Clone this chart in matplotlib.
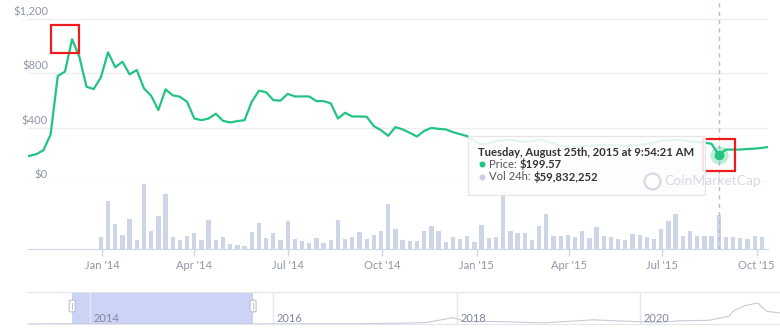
import numpy as np
import matplotlib
matplotlib.use("Agg")
import matplotlib.pyplot as plt
import matplotlib.dates as mdates
import matplotlib.transforms as mtransforms
from matplotlib.lines import Line2D
from matplotlib.patches import Rectangle, FancyBboxPatch
from matplotlib.text import Annotation

plt.rcParams["font.family"] = ["Lato", "DejaVu Sans"]

W, H = 780, 328

# weekly closing price (USD), first point 2013-10-22
PRICE_START = "2013-10-22"
PRICE = [191, 204, 233, 348, 778, 810, 1048, 920, 699, 682,
         768, 952, 842, 883, 790, 822, 687, 633, 528, 680,
         636, 626, 589, 466, 454, 466, 501, 449, 437, 447,
         454, 589, 670, 659, 601, 597, 647, 628, 628, 628,
         594, 594, 577, 466, 508, 481, 481, 479, 410, 380,
         339, 403, 386, 361, 334, 375, 397, 390, 386, 366,
         351, 336, 300, 275, 285, 300, 305, 310, 300, 295,
         300, 310, 300, 285, 265, 260, 260, 262, 265, 270,
         272, 270, 268, 265, 268, 272, 280, 290, 302, 305,
         310, 305, 298, 295, 290, 280, 199.57, 238, 238, 238,
         242, 245, 250, 258]

# weekly 24h volume (million USD), first bar 2013-12-31
VOL_START = "2013-12-31"
VOLUME = [20.9, 84.2, 44.1, 24.9, 52.3, 15.2, 113.9, 31.9, 58.1, 96.4,
          20.9, 15.2, 22.1, 27.9, 15.2, 51.1, 15.2, 20.9, 9.2, 7.5,
          5.8, 29.6, 45.3, 19.2, 27.9, 15.2, 49.4, 18.0, 14.0, 11.0,
          19.2, 11.0, 15.2, 51.1, 18.0, 20.9, 29.6, 16.9, 23.9, 31.9,
          79.0, 35.4, 16.2, 13.4, 13.4, 30.9, 40.6, 30.9, 12.2, 20.9,
          18.0, 22.1, 12.2, 42.4, 19.2, 20.9, 100.6, 31.9, 27.9, 27.9,
          16.2, 40.6, 61.6, 22.1, 22.1, 23.9, 20.9, 31.9, 19.2, 37.8,
          22.1, 20.9, 18.0, 15.2, 26.7, 23.9, 20.9, 18.0, 35.4, 49.4,
          61.6, 22.1, 30.9, 22.1, 22.1, 22.1, 59.8, 20.4, 20.4, 19.2,
          18.0, 23.2, 20.9]

PRICE_TICKS = [0, 400, 800, 1200]
PRICE_LABELS = ["$0", "$400", "$800", "$1,200"]
MONTH_TICKS = ["2014-01-01", "2014-04-01", "2014-07-01", "2014-10-01",
               "2015-01-01", "2015-04-01", "2015-07-01", "2015-10-01"]
X_RANGE = ["2013-10-21", "2015-10-12"]

# highlighted point / tooltip
HOVER_DATE = "2015-08-25"
HOVER_PRICE = 199.57
HOVER_TITLE = "Tuesday, August 25th, 2015 at 9:54:21 AM"
HOVER_VOL = "$59,832,252"
PEAK_DATE = "2013-11-26"
PEAK_PRICE = 1048

# navigator overview (price in thousand USD)
NAV_DATES = ["2013-04-28", "2013-11-30", "2014-06-01", "2015-01-15", "2015-10-01",
             "2016-06-15", "2017-01-01", "2017-06-01", "2017-09-01", "2017-12-17",
             "2018-02-06", "2018-06-01", "2018-12-15", "2019-06-26", "2019-12-15",
             "2020-03-13", "2020-06-01", "2020-10-01", "2020-12-20", "2021-01-08",
             "2021-02-20", "2021-04-14", "2021-05-20", "2021-07-12"]
NAV_PRICE = [0.13, 1.0, 0.6, 0.2, 0.25,
             0.7, 1.0, 2.5, 4.3, 19.0,
             7.0, 7.5, 3.3, 12.5, 7.2,
             5.0, 9.5, 11.0, 23.0, 39.0,
             55.0, 63.0, 38.0, 33.0]
NAV_YEARS = ["2014", "2016", "2018", "2020"]
NAV_RANGE = ["2013-04-28", "2021-07-12"]

GREEN = "#23c483"
BAR = "#cdd5e6"
LABEL = "#8f97a8"
GRID = "#eeeeee"
AXIS = "#ccd6eb"
DASH = "#b4bbdb"


def fx(x):
    return x / W


def fy(y):
    return 1 - y / H


def main():
    fig = plt.figure(figsize=(W / 100, H / 100), dpi=100)
    fig.patch.set_facecolor("white")

    ax = fig.add_axes([fx(28), fy(182), 740 / W, 182 / H])
    av = fig.add_axes([fx(28), fy(249), 740 / W, 67 / H])
    an = fig.add_axes([fx(28), fy(324), 752 / W, 32 / H])

    xr = np.array(X_RANGE, dtype="datetime64[D]")
    p_dates = np.datetime64(PRICE_START) + 7 * np.arange(len(PRICE))
    v_dates = np.datetime64(VOL_START) + 7 * np.arange(len(VOLUME))
    hover = np.datetime64(HOVER_DATE)

    # ---- price panel
    ax.plot(p_dates, PRICE, color=GREEN, lw=1.6, solid_joinstyle="round", zorder=3)
    ax.set_xlim(xr[0], xr[1])
    ax.set_ylim(0, 1336)
    ax.set_yticks(PRICE_TICKS)
    ax.yaxis.grid(True, color=GRID, lw=1)
    ax.set_axisbelow(True)
    ax.tick_params(left=False, bottom=False, labelleft=False, labelbottom=False)
    for s in ax.spines.values():
        s.set_visible(False)
    lab_tr = mtransforms.offset_copy(ax.get_yaxis_transform(), fig=fig, y=7, units="dots")
    for v, t in zip(PRICE_TICKS, PRICE_LABELS):
        ax.text(20 / 740, v, t, transform=lab_tr, ha="right", va="center",
                fontsize=8, color=LABEL, clip_on=False)

    ax.axvline(hover, color=DASH, lw=1, ls=(0, (3, 3)), zorder=2)
    # hover dot with halo
    ax.plot([hover], [HOVER_PRICE], "o", ms=13, color=GREEN, alpha=0.3, mec="none", zorder=4)
    ax.plot([hover], [HOVER_PRICE], "o", ms=7, color=GREEN, mec="none", zorder=5)
    # red highlight boxes
    ax.plot([np.datetime64(PEAK_DATE)], [PEAK_PRICE], "s", ms=19.5, mfc="none",
            mec="#ee1c1c", mew=1.6, zorder=6, clip_on=False)
    ax.plot([hover], [HOVER_PRICE], "s", ms=23, mfc="none",
            mec="#ee1c1c", mew=1.6, zorder=6, clip_on=False)

    # ---- volume panel
    av.bar(v_dates, VOLUME, width=4.2, color=BAR, zorder=2)
    av.axvline(hover, color=DASH, lw=1, ls=(0, (3, 3)), zorder=3)
    av.set_xlim(xr[0], xr[1])
    av.set_ylim(0, 116.8)
    for k in ("top", "left", "right"):
        av.spines[k].set_visible(False)
    av.spines["bottom"].set_color(AXIS)
    av.set_yticks([])
    av.set_xticks(np.array(MONTH_TICKS, dtype="datetime64[D]"))
    av.xaxis.set_major_formatter(mdates.DateFormatter("%b '%y"))
    av.tick_params(axis="x", length=5, width=1, color=AXIS, pad=3,
                   labelsize=8, labelcolor=LABEL)
    av.patch.set_alpha(0)

    # ---- navigator
    n_dates = np.array(NAV_DATES, dtype="datetime64[D]")
    nr = np.array(NAV_RANGE, dtype="datetime64[D]")
    an.set_xlim(nr[0], nr[1])
    an.set_ylim(0, 96)
    an.axvspan(xr[0], xr[1], color="#cbd4f7", lw=0, zorder=1)
    an.plot(n_dates, NAV_PRICE, color="#c8ccd7", lw=0.8, zorder=3)
    year_dates = np.array([y + "-01-01" for y in NAV_YEARS], dtype="datetime64[D]")
    for d in year_dates:
        an.axvline(d, color="#e4e7ee", lw=1, zorder=2)
    yl_tr = mtransforms.offset_copy(an.get_xaxis_transform(), fig=fig, x=3.5, y=6, units="dots")
    for d, t in zip(year_dates, NAV_YEARS):
        an.text(d, 0, t, transform=yl_tr, ha="left", va="center", fontsize=8,
                color="#8089a0", zorder=4)
    an.set_xticks([])
    an.set_yticks([])
    for k in ("left", "right"):
        an.spines[k].set_visible(False)
    an.spines["top"].set_color("#e6e6e6")
    an.spines["bottom"].set_color("#e3e6ee")
    # selection handles
    for d in xr:
        hx = an.transData.transform((mdates.date2num(d), 0))[0]
        fig.add_artist(FancyBboxPatch((hx / W - 3 / W, fy(312)), 6 / W, 12 / H,
                                      boxstyle="round,pad=0,rounding_size=0.004",
                                      transform=fig.transFigure, fc="white",
                                      ec="#b5b9c4", lw=0.7, zorder=6))
        fig.add_artist(Line2D([hx / W, hx / W], [fy(309), fy(303)], color="#b5b9c4",
                              lw=0.6, transform=fig.transFigure, zorder=7))

    # ---- tooltip
    fig.add_artist(Rectangle((fx(469), fy(196)), 237 / W, 59 / H, transform=fig.transFigure,
                             fc="#000000", alpha=0.05, lw=0, zorder=8))
    fig.add_artist(Rectangle((fx(468), fy(195)), 237 / W, 59 / H, transform=fig.transFigure,
                             fc="white", alpha=0.88, ec="#e2e2e2", lw=0.8, zorder=9))
    fig.text(fx(478), fy(152), HOVER_TITLE, fontsize=8.1, fontweight="bold",
             color="#333333", va="center", zorder=10)
    rows = [(GREEN, "Price: ", f"${HOVER_PRICE:.2f}", 164),
            ("#c9cfdd", "Vol 24h: ", HOVER_VOL, 177)]
    for col, name, val, y in rows:
        fig.add_artist(Line2D([fx(482)], [fy(y)], marker="o", ms=4.3, color=col,
                              mec="none", transform=fig.transFigure, zorder=10))
        t = fig.text(fx(489), fy(y), name, fontsize=8.1, color="#555555",
                     va="center", zorder=10)
        fig.add_artist(Annotation(val, xy=(1, 0.5), xycoords=t, va="center",
                                  ha="left", fontsize=8.1, fontweight="bold",
                                  color="#333333", zorder=10))

    # ---- watermark
    fig.add_artist(Line2D([fx(652)], [fy(181)], marker="o", ms=11.5, mfc="none",
                          mec="#d5dae4", mew=1.6, transform=fig.transFigure, zorder=11))
    fig.text(fx(664), fy(181), "CoinMarketCap", fontsize=10, color="#d5dae4",
             ha="left", va="center", zorder=11)

    fig.savefig("out.png", dpi=100, facecolor="white")
    plt.close(fig)


if __name__ == "__main__":
    main()
